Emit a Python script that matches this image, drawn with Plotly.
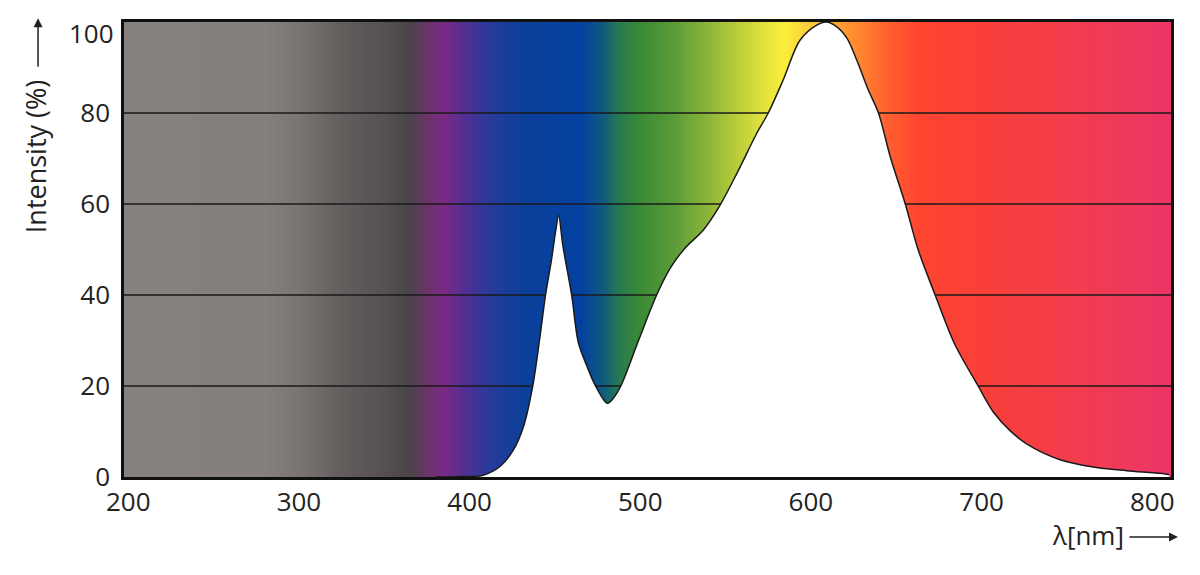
import numpy as np
import plotly.graph_objects as go

# spectral curve (wavelength in nm, relative intensity in %)
wavelength = [380, 395, 408, 417.8, 425.6, 431.5, 437, 441.3, 444.5, 448.1, 450.4, 452.2,
              454.6, 459.8, 463.7, 468.6, 473.8, 480.7, 484.2, 488.6, 499, 509.6, 517.4,
              526.2, 537, 546.7, 557, 568.2, 575, 583.8, 593.6, 603.4, 609, 615, 621,
              627, 633.6, 639.6, 646.5, 655.3, 662.9, 672.8, 684, 698, 706.9, 716.7,
              726.4, 746, 765.5, 785, 804.5, 810]
intensity = [0, 0.1, 0.4, 2.3, 5.9, 11, 20, 31, 40, 48, 54, 57.5,
             51, 40, 29.6, 24.5, 20, 16.2, 17.3, 20, 30, 40, 45.8,
             50.3, 54.3, 59.7, 67, 75.5, 80, 87.3, 96, 99.3, 100, 99, 96.5,
             91.5, 85.1, 80, 70.4, 60, 49.9, 40, 29.4, 20, 14.3, 10.2,
             7.3, 3.8, 2.2, 1.4, 0.8, 0.5]

x_ticks = [200, 300, 400, 500, 600, 700, 800]
y_ticks = [0, 20, 40, 60, 80, 100]
grid_levels = [20, 40, 60, 80]

x_min, x_max = 197.5, 811

# background spectrum colours (nm -> colour)
band_nm = [197.5, 280, 300, 325, 350, 365, 375, 385, 398, 412, 430, 465, 478, 488,
           500, 520, 540, 556, 570, 584, 595, 605, 616, 630, 644, 664, 700, 740,
           780, 811]
band_colors = ["#85817f", "#85807e", "#7a7472", "#635d5d", "#565051", "#4b4549",
               "#6a3468", "#7a2a86", "#4f2f93", "#283a9a", "#0c409a", "#0340a0",
               "#0f5a80", "#2a7a50", "#3a8a35", "#5c9c38", "#8cb63a", "#b8cc3a",
               "#dde03c", "#fbee3b", "#fdd53a", "#ffbf34", "#ffa030", "#ff8030",
               "#ff6030", "#ff4430", "#f93f38", "#f53d48", "#f03a5a", "#ec3468"]

colorscale = [[(nm - x_min) / (x_max - x_min), c] for nm, c in zip(band_nm, band_colors)]
bg_x = np.linspace(x_min, x_max, 700)

fig = go.Figure()

fig.add_trace(go.Heatmap(
    x=bg_x, y=[0, 100], z=[bg_x, bg_x],
    colorscale=colorscale, zmin=x_min, zmax=x_max,
    showscale=False, hoverinfo="skip"
))

grid_x, grid_y = [], []
for g in grid_levels:
    grid_x += [x_min, x_max, None]
    grid_y += [g, g, None]
fig.add_trace(go.Scatter(
    x=grid_x, y=grid_y, mode="lines",
    line=dict(color="#1a1a1a", width=1.5),
    hoverinfo="skip", showlegend=False
))

fig.add_trace(go.Scatter(
    x=wavelength, y=intensity, mode="lines",
    line=dict(color="#1a1a1a", width=1.5, shape="spline", smoothing=0.9),
    fill="tozeroy", fillcolor="white",
    showlegend=False
))

# top label "100" sits a bit lower than its gridline in the original, so it is drawn separately
y_ticktext = [str(v) if v < y_ticks[-1] else "" for v in y_ticks]

fig.update_layout(
    width=1184, height=559,
    margin=dict(l=116, r=21, t=14, b=90),
    plot_bgcolor="white", paper_bgcolor="white",
    font=dict(family="Open Sans", size=26, color="#222"),
    showlegend=False,
    xaxis=dict(range=[x_min, x_max], tickvals=x_ticks, showgrid=False, zeroline=False,
               showline=True, mirror=True, linecolor="#111", linewidth=2.5, ticks="",
               automargin=False, ticklabeloverflow="allow"),
    yaxis=dict(range=[0, 100], tickvals=y_ticks, ticktext=y_ticktext,
               showgrid=False, zeroline=False,
               showline=True, mirror=True, linecolor="#111", linewidth=2.5, ticks="",
               automargin=False, ticklabelstandoff=6, ticklabeloverflow="allow"),
)

fig.add_annotation(xref="paper", yref="y", x=0, y=y_ticks[-1], text=str(y_ticks[-1]),
                   xanchor="right", yanchor="middle", xshift=-8, yshift=-11,
                   showarrow=False, font=dict(size=26))

# axis titles with arrows
fig.add_annotation(xref="paper", yref="paper", x=-0.0845, y=0.704, text="Intensity (%)",
                   textangle=-90, xanchor="center", yanchor="middle",
                   showarrow=False, font=dict(size=27))
fig.add_annotation(xref="paper", yref="paper", x=-0.0821, y=1.008, ax=0, ay=50,
                   text="", showarrow=True, arrowhead=2, arrowsize=1.2, arrowwidth=1.5,
                   arrowcolor="#222")
fig.add_annotation(xref="paper", yref="paper", x=0.9207, y=-0.1275, text="λ[nm]",
                   xanchor="center", yanchor="middle",
                   showarrow=False, font=dict(size=26))
fig.add_annotation(xref="paper", yref="paper", x=1.0067, y=-0.1319, ax=-50, ay=0,
                   text="", showarrow=True, arrowhead=2, arrowsize=1.2, arrowwidth=1.5,
                   arrowcolor="#222")

fig.write_html("out.html")
